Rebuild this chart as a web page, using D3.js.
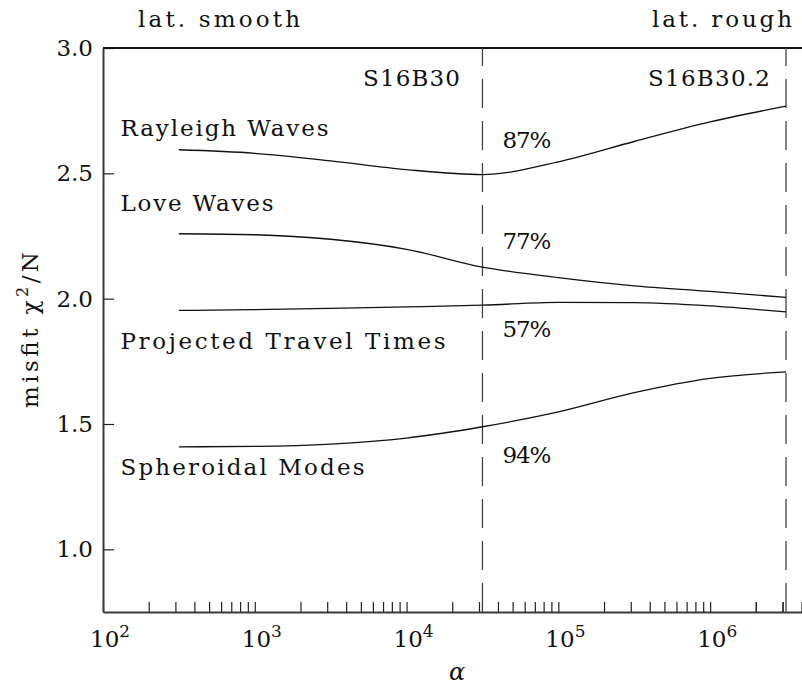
<!DOCTYPE html>
<html>
<head>
<meta charset="utf-8">
<script src="https://cdn.jsdelivr.net/npm/d3@7"></script>
<style>
  body { margin: 0; background: #fff; }
</style>
</head>
<body>
<div id="chart"></div>
<script>
// regularization parameter alpha (half decades, 10^2.5 .. 10^6.5)
const alpha = [316, 1000, 3162, 10000, 31623, 100000, 316228, 1000000, 3162278];

// misfit chi^2/N of each data set
const rayleigh   = [2.594, 2.580, 2.550, 2.515, 2.495, 2.546, 2.627, 2.705, 2.768];
const love       = [2.259, 2.255, 2.237, 2.197, 2.126, 2.084, 2.051, 2.029, 2.005];
const travel     = [1.953, 1.956, 1.961, 1.967, 1.974, 1.985, 1.984, 1.971, 1.947];
const spheroidal = [1.409, 1.411, 1.420, 1.444, 1.489, 1.548, 1.625, 1.682, 1.708];

const seriesNames = ["Rayleigh Waves", "Love Waves", "Projected Travel Times", "Spheroidal Modes"];
const seriesData = [rayleigh, love, travel, spheroidal];
const percents = ["87%", "77%", "57%", "94%"];

// chosen models (dashed lines)
const models = [31623, 3162278];
const modelNames = ["S16B30", "S16B30.2"];

const yTicks = [1.0, 1.5, 2.0, 2.5, 3.0];
const xDecades = [2, 3, 4, 5, 6];

const FONT = '"DejaVu Serif", "Liberation Serif", serif';

// set the dimensions and margins of the graph
const W = 802, H = 685;
const margin = { top: 48, right: 0, bottom: 73, left: 103 };

const svg = d3.select("#chart").append("svg")
    .attr("width", W)
    .attr("height", H)
    .style("font-family", FONT);

const x = d3.scaleLog().domain([100, 4.03e6]).range([margin.left, W - margin.right]);
const y = d3.scaleLinear().domain([0.75, 3.0]).range([H - margin.bottom, margin.top]);

// minor + major ticks on the log axis
let xTickVals = [];
for (let d = 2; d <= 6; d++) {
    for (let m = 1; m <= 9; m++) xTickVals.push(m * Math.pow(10, d));
}
xTickVals.push(2e6, 3e6);

const axisColor = "#3a3a3a";

// x-axis (ticks point into the plot)
const gx = svg.append("g")
    .attr("transform", `translate(0, ${y(0.75)})`)
    .call(d3.axisBottom(x).tickValues(xTickVals).tickSize(-10).tickSizeOuter(0).tickFormat(""));
gx.select(".domain").attr("stroke", axisColor).attr("stroke-width", 2);
gx.selectAll(".tick line").attr("stroke", "#222").attr("stroke-width", 1.2);

// x tick labels 10^n
xDecades.forEach((d) => {
    const t = svg.append("text")
        .attr("x", x(Math.pow(10, d)) - 13)
        .attr("y", 647)
        .style("font-family", FONT)
        .style("font-size", "23px")
        .attr("fill", "#111");
    t.append("tspan").text("10");
    t.append("tspan").attr("dy", -10).style("font-size", "17px").text(d);
});

// y-axis
const gy = svg.append("g")
    .attr("transform", `translate(${margin.left}, 0)`)
    .call(d3.axisLeft(y).tickValues(yTicks).tickSize(-11).tickSizeOuter(0).tickPadding(10)
        .tickFormat(d3.format(".1f")));
gy.select(".domain").attr("stroke", axisColor).attr("stroke-width", 2);
gy.selectAll(".tick line").attr("stroke", "#222").attr("stroke-width", 1.2);
gy.selectAll(".tick text")
    .style("font-family", FONT)
    .style("font-size", "23px")
    .attr("fill", "#111");

// top border
svg.append("line")
    .attr("x1", margin.left).attr("x2", W)
    .attr("y1", y(3.0)).attr("y2", y(3.0))
    .attr("stroke", "#111").attr("stroke-width", 2);

// dashed lines at chosen models
models.forEach((m) => {
    svg.append("line")
        .attr("x1", x(m)).attr("x2", x(m))
        .attr("y1", y(0.75)).attr("y2", y(3.0))
        .attr("stroke", "#444")
        .attr("stroke-width", 1.3)
        .attr("stroke-dasharray", "29,13");
});

// curves
const valueLine = d3.line()
    .x((d) => x(d[0]))
    .y((d) => y(d[1]))
    .curve(d3.curveMonotoneX);

seriesData.forEach((s) => {
    svg.append("path")
        .datum(alpha.map((a, i) => [a, s[i]]))
        .attr("fill", "none")
        .attr("stroke", "#111")
        .attr("stroke-width", 1.3)
        .attr("d", valueLine);
});

// labels
function label(txt, lx, ly, len) {
    svg.append("text")
        .attr("x", lx).attr("y", ly)
        .attr("textLength", len)
        .attr("lengthAdjust", "spacing")
        .style("font-family", FONT)
        .style("font-size", "23px")
        .attr("fill", "#111")
        .text(txt);
}

const nameY = [136, 211, 349, 475];
const nameLen = [208, 153, 325, 244];
seriesNames.forEach((n, i) => label(n, 120.5, nameY[i], nameLen[i]));

const pctY = [148, 249, 337, 463];
percents.forEach((p, i) => label(p, x(models[0]) + 20, pctY[i], 49));

label(modelNames[0], 363, 86, 97);
label(modelNames[1], 648, 86, 122);

label("lat. smooth", 138, 27, 162);
label("lat. rough", 652, 27, 140);

// axis titles
svg.append("text")
    .attr("x", 457).attr("y", 680)
    .attr("text-anchor", "middle")
    .style("font-family", FONT)
    .style("font-size", "24px")
    .style("font-style", "italic")
    .attr("fill", "#111")
    .text("α");

const yl = svg.append("text")
    .attr("transform", "translate(38, 330) rotate(-90)")
    .attr("text-anchor", "middle")
    .attr("textLength", 156)
    .attr("lengthAdjust", "spacing")
    .style("font-family", FONT)
    .style("font-size", "23px")
    .attr("fill", "#111");
yl.append("tspan").text("misfit  χ");
yl.append("tspan").attr("dy", -10).style("font-size", "16px").text("2");
yl.append("tspan").attr("dy", 10).text("/N");
</script>
</body>
</html>
